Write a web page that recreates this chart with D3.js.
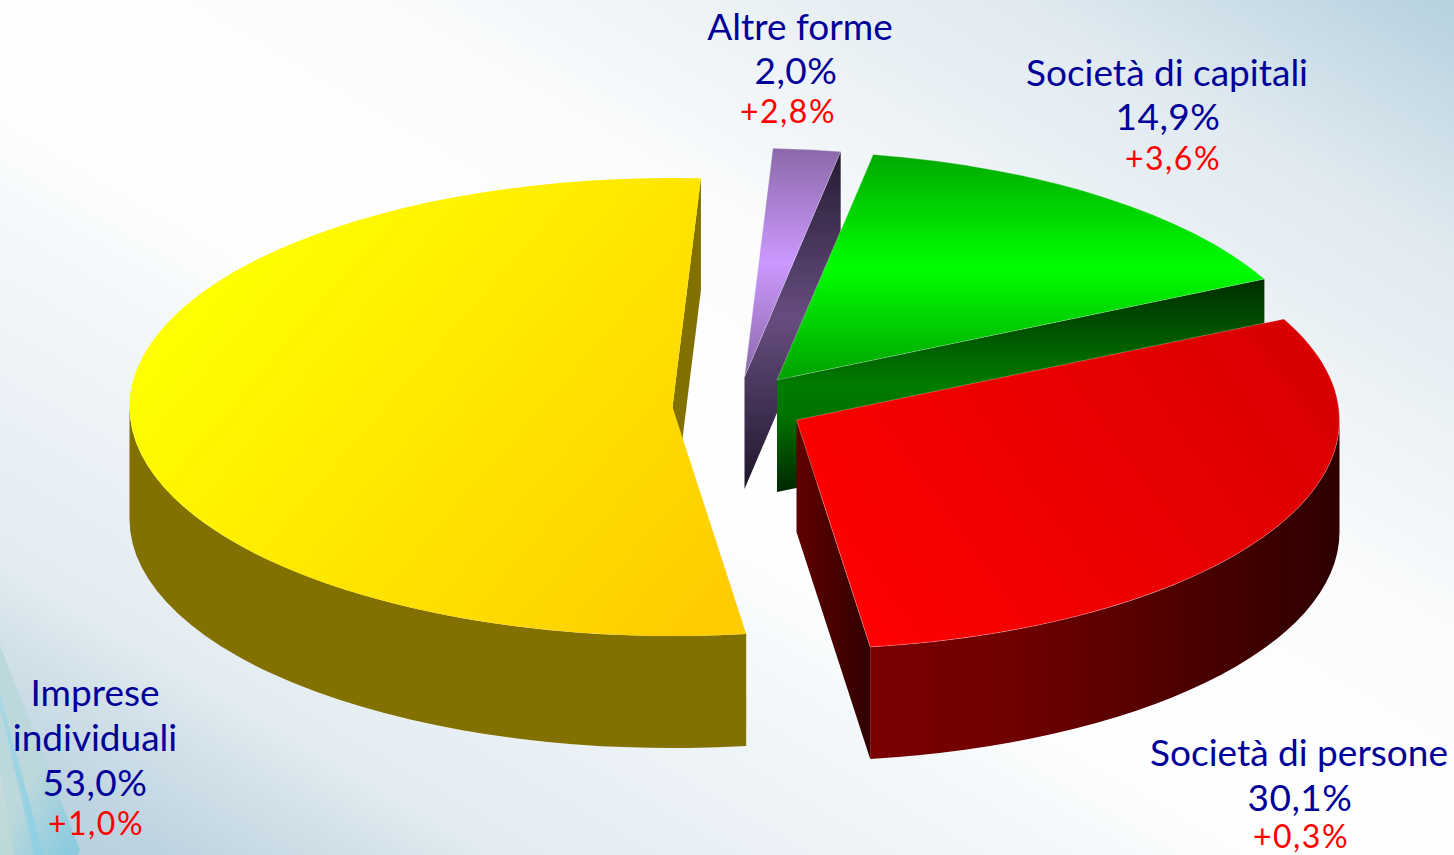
<!DOCTYPE html>
<html><head><meta charset="utf-8">
<script src="https://cdn.jsdelivr.net/npm/d3@7"></script>
<style>html,body{margin:0;padding:0;background:#fff;overflow:hidden}svg{display:block}text{font-family:Lato,"Noto Sans",sans-serif;text-anchor:middle}</style>
</head><body><svg id="c" width="1454" height="855"></svg>
<script>
// data (in draw order, clockwise from the top)
const categories = [["Altre forme"],["Società di capitali"],["Società di persone"],["Imprese","individuali"]];
const shares = [2.0,14.9,30.1,53.0];
const changes = ["+2,8%","+3,6%","+0,3%","+1,0%"];

// layout
const W=1454,H=855,RX=543,RY=229,DEPTH=112;
const centres=[[744.5,377],[777,380],[796.5,420],[672.5,407]];
const keys=["purple","green","red","yellow"];
const drawOrder=[3,0,1,2];
// name x, name baseline, line step, share x, delta x, delta baseline offset
const labelPos=[[800,40,44,796,788,39],[1167,86,44,1168,1173,40],[1299,766,45,1300,1301,37],[95,706,45,95,96,39]];
const svg=d3.select("#c"),defs=svg.append("defs");

function lg(id,x1,y1,x2,y2,stops,tf){
  const g=defs.append("linearGradient").attr("id",id).attr("gradientUnits","userSpaceOnUse")
    .attr("x1",x1).attr("y1",y1).attr("x2",x2).attr("y2",y2);
  if(tf) g.attr("gradientTransform",tf);
  stops.forEach(s=>g.append("stop").attr("offset",s[0]).attr("stop-color",s[1]));
}
const topTf=i=>`scale(1,${RX/RY}) translate(${-centres[i][0]},${-centres[i][1]})`;
lg("bg",353,1062,1101,-208,[[0,"#b5d0df"],[.055,"#bdd3e0"],[.135,"#d5e3ea"],[.17,"#e2ecf1"],[.265,"#ebf1f6"],[.385,"#f6f9fb"],[.45,"#ffffff"],[.62,"#fbfcfd"],[.72,"#eff4f7"],[.85,"#e0eaf0"],[1,"#b6d1df"]]);
lg("top-yellow",250,230,700,620,[[0,"#ffff00"],[1,"#ffcc00"]],topTf(3));
lg("top-green",0,154,0,380,[[0,"#00a800"],[.5,"#00ff00"],[1,"#00a000"]],topTf(1));
lg("top-purple",0,148,0,377,[[0,"#8a68a8"],[.5,"#cc99ff"],[1,"#8a68a8"]],topTf(0));
lg("top-red",1300,330,870,640,[[0,"#d80000"],[1,"#ff0000"]],topTf(2));
lg("wall-green",0,280,0,493,[[0,"#002e00"],[.5,"#007c00"],[.65,"#007000"],[1,"#002400"]]);
lg("wall-purple",0,150,0,488,[[0,"#241a30"],[.5,"#664d80"],[1,"#1e1628"]]);
lg("wall-red",872,0,1339,0,[[0,"#7a0000"],[.3,"#700000"],[1,"#2e0000"]]);
lg("edge-red",797,0,872,0,[[0,"#600000"],[1,"#300000"]]);
lg("sw1",20,800,78,830,[[0,"#bcd8dc"],[1,"#8ccbdf"]]);
lg("sw2",0,695,40,855,[[0,"#a8d8e6"],[1,"#8fcfe2"]]);
lg("sw3",0,770,14,855,[[0,"#c8dcdc"],[1,"#bcd8d8"]]);

// background
svg.append("rect").attr("width",W).attr("height",H).attr("fill","url(#bg)");
svg.append("path").attr("d","M0,645L80,850L78,855L0,855Z").attr("fill","url(#sw1)");
svg.append("path").attr("d","M0,708L35,855L44,855L0,695Z").attr("fill","url(#sw2)");
svg.append("path").attr("d","M0,770L14,855L0,855Z").attr("fill","url(#sw3)");

// pie
const pie=d3.pie().sort(null).startAngle(3*Math.PI/180).endAngle(363*Math.PI/180);
const arcs=pie(shares);
const arc=d3.arc().innerRadius(0).outerRadius(RX);
const px=(c,a)=>[c[0]+RX*Math.sin(a),c[1]-RY*Math.cos(a)];

function quad(c,a){
  const p=px(c,a);
  return `M${c[0]},${c[1]}L${p[0]},${p[1]}L${p[0]},${p[1]+DEPTH}L${c[0]},${c[1]+DEPTH}Z`;
}
function outerWall(c,a0,a1){
  const p=px(c,a0),q=px(c,a1);
  return `M${p[0]},${p[1]}A${RX},${RY} 0 0 1 ${q[0]},${q[1]}L${q[0]},${q[1]+DEPTH}A${RX},${RY} 0 0 0 ${p[0]},${p[1]+DEPTH}Z`;
}
const wallStyle={
  yellow:{start:"#827000",outer:"#827000"},
  purple:{end:"url(#wall-purple)"},
  green:{end:"url(#wall-green)"},
  red:{end:"url(#edge-red)",outer:"url(#wall-red)"}
};
drawOrder.forEach(i=>{
  const d=arcs[i],c=centres[i],k=keys[i],st=wallStyle[k],g=svg.append("g").attr("class","slice "+k);
  const right=Math.PI/2,left=3*Math.PI/2;
  if(k==="yellow"){
    g.append("path").attr("d",quad(c,d.endAngle)).attr("fill",st.start);
    g.append("path").attr("d",outerWall(c,d.startAngle,left)).attr("fill",st.outer);
  } else {
    if(st.outer) g.append("path").attr("d",outerWall(c,Math.max(d.startAngle,right),d.endAngle)).attr("fill",st.outer);
    g.append("path").attr("d",quad(c,d.endAngle)).attr("fill",st.end);
  }
  g.append("path").attr("transform",`translate(${c[0]},${c[1]}) scale(1,${RY/RX})`)
    .attr("d",arc(d)).attr("fill",`url(#top-${k})`)
    .attr("stroke",k==="yellow"?"none":"#ffffff").attr("stroke-opacity",.35).attr("stroke-width",.8)
    .attr("vector-effect","non-scaling-stroke");
});

// labels
categories.forEach((lines,i)=>{
  const [x,y,step,xs,xd,stepD]=labelPos[i];
  const g=svg.append("g");
  lines.forEach((t,j)=>g.append("text").attr("x",x).attr("y",y+j*step).attr("font-size",37).attr("fill","#000099").text(t));
  const n=lines.length;
  g.append("text").attr("x",xs).attr("y",y+n*step).attr("font-size",37).attr("fill","#000099").attr("letter-spacing",.5).text(shares[i].toFixed(1).replace(".",",")+"%");
  g.append("text").attr("x",xd).attr("y",y+n*step+stepD).attr("font-size",32).attr("fill","#ff0000").attr("letter-spacing",1.5).text(changes[i]);
});
</script></body></html>
